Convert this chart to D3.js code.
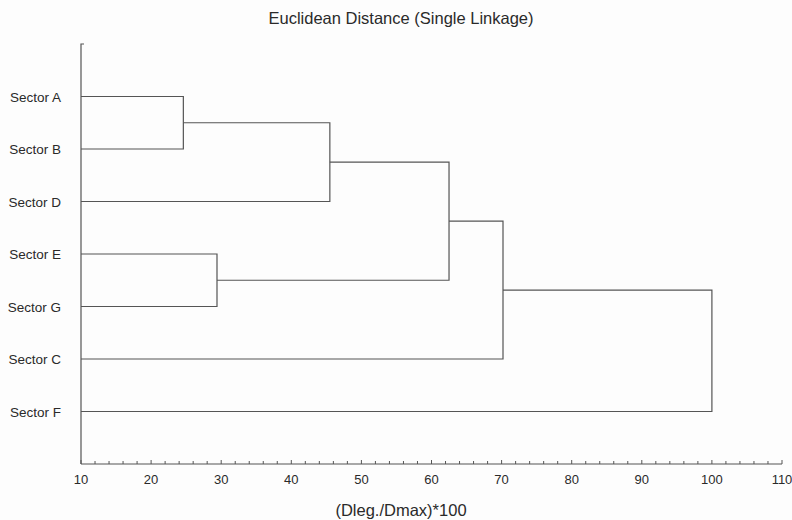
<!DOCTYPE html>
<html>
<head>
<meta charset="utf-8">
<script src="https://cdn.jsdelivr.net/npm/d3@7"></script>
<style>
  body { margin: 0; background: #fdfdfd; }
  text { font-family: "Liberation Sans", Arial, sans-serif; fill: #2a2a2a; }
</style>
</head>
<body>
<script>
// leaf order top to bottom
var leaves = ["Sector A", "Sector B", "Sector D", "Sector E", "Sector G", "Sector C", "Sector F"];
// merges: [left node, right node, linkage distance]
var mergeLeft = ["Sector A", "AB", "Sector E", "ABD", "ABDEG", "ABDEGC"];
var mergeRight = ["Sector B", "Sector D", "Sector G", "EG", "Sector C", "Sector F"];
var mergeName = ["AB", "ABD", "EG", "ABDEG", "ABDEGC", "ALL"];
var mergeHeight = [24.6, 45.5, 29.4, 62.5, 70.2, 100.0];
var xTicks = [10, 20, 30, 40, 50, 60, 70, 80, 90, 100, 110];

var W = 792, H = 520;
var margin = {top: 44, right: 10, bottom: 56, left: 81};
var width = W - margin.left - margin.right,
    height = H - margin.top - margin.bottom;
var lineCol = "#555";

var svg = d3.select("body").append("svg")
  .attr("width", W)
  .attr("height", H);

var g = svg.append("g")
  .attr("transform", "translate(" + margin.left + "," + margin.top + ")");

var x = d3.scaleLinear().domain([10, 110]).range([0, width]);
var y = d3.scalePoint().domain(leaves).range([0, height]).padding(1);

// node positions
var pos = {};
leaves.forEach(function(l){ pos[l] = {x: x(10), y: y(l)}; });

var links = g.append("g").attr("class", "links");
mergeName.forEach(function(name, i){
  var a = pos[mergeLeft[i]], b = pos[mergeRight[i]];
  var mx = x(mergeHeight[i]);
  var path = "M" + a.x + "," + a.y + "H" + mx + "V" + b.y + "H" + b.x;
  links.append("path")
    .attr("d", path)
    .attr("fill", "none")
    .attr("stroke", lineCol)
    .attr("stroke-width", 1.2);
  pos[name] = {x: mx, y: (a.y + b.y) / 2};
});

// x axis: line, minor + major ticks pointing up
var xa = g.append("g").attr("transform", "translate(0," + height + ")");
xa.append("line")
  .attr("x1", 0).attr("x2", width)
  .attr("stroke", lineCol).attr("stroke-width", 1.2);
xa.selectAll("line.minor")
  .data(d3.range(10, 111, 2))
  .enter()
  .append("line")
  .attr("class", "minor")
  .attr("x1", function(d){ return x(d); })
  .attr("x2", function(d){ return x(d); })
  .attr("y1", 0)
  .attr("y2", function(d){ return d % 10 == 0 ? -4 : -3; })
  .attr("stroke", lineCol);
xa.selectAll("text")
  .data(xTicks)
  .enter()
  .append("text")
  .attr("x", function(d){ return x(d); })
  .attr("y", 20)
  .attr("text-anchor", "middle")
  .style("font-size", "13px")
  .text(function(d){ return d; });

// y axis line with little tick at top
g.append("path")
  .attr("d", "M3,0H0V" + height)
  .attr("fill", "none")
  .attr("stroke", lineCol)
  .attr("stroke-width", 1.2);

// leaf labels
g.append("g")
  .selectAll("text")
  .data(leaves)
  .enter()
  .append("text")
  .attr("x", -20)
  .attr("y", function(d){ return y(d) + 5; })
  .attr("text-anchor", "end")
  .style("font-size", "13.5px")
  .text(function(d){ return d; });

// titles
svg.append("text")
  .attr("x", 401)
  .attr("y", 24)
  .attr("text-anchor", "middle")
  .style("font-size", "16.5px")
  .text("Euclidean Distance (Single Linkage)");

svg.append("text")
  .attr("x", 401)
  .attr("y", 516)
  .attr("text-anchor", "middle")
  .style("font-size", "16.5px")
  .text("(Dleg./Dmax)*100");
</script>
</body>
</html>
